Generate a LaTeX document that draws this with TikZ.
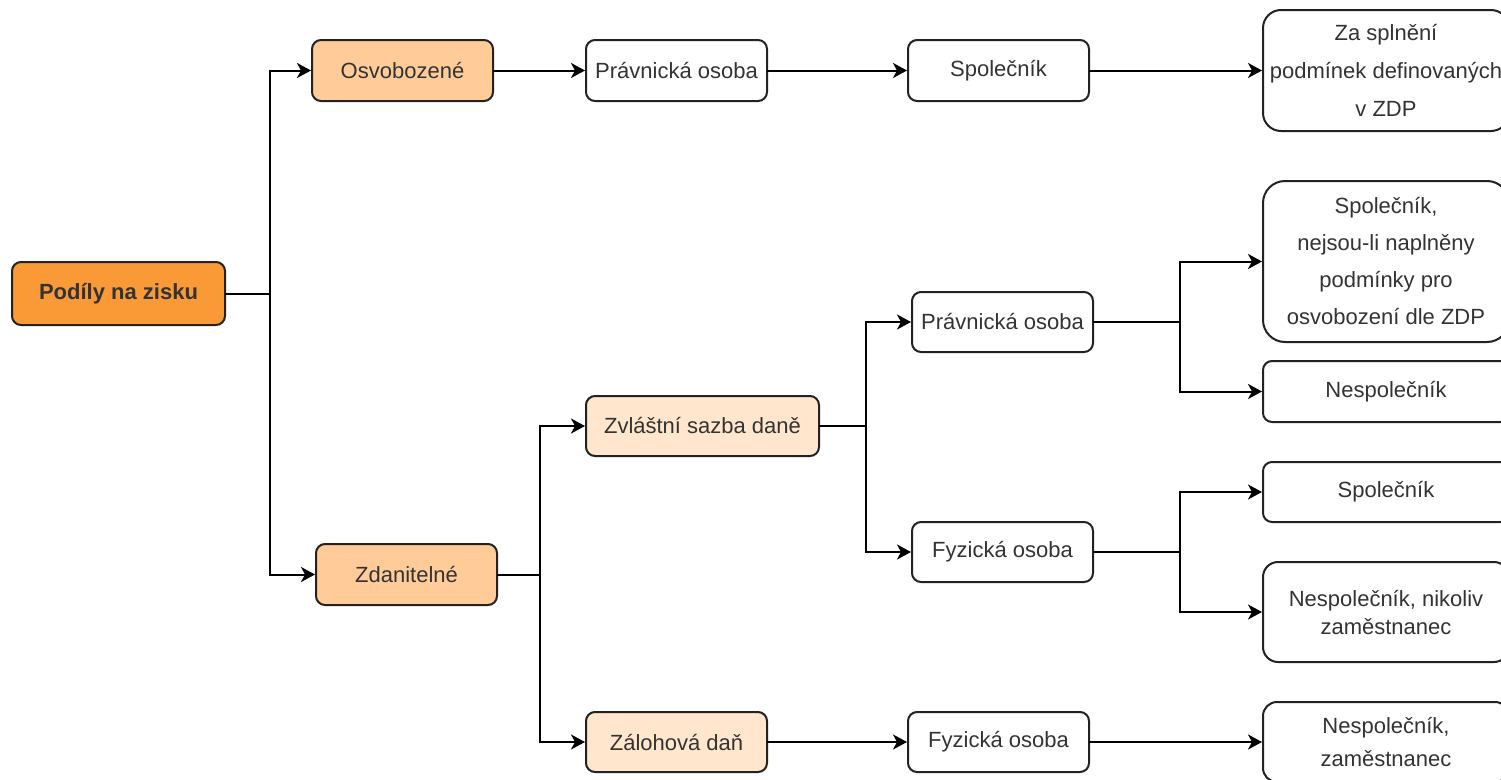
\documentclass[tikz,border=0pt]{standalone}
\usepackage{fontspec}
\setmainfont{Liberation Sans}
\usetikzlibrary{arrows.meta,positioning}
\definecolor{deeporange}{HTML}{F99A36}
\definecolor{midorange}{HTML}{FFCC99}
\definecolor{paleorange}{HTML}{FFE6CC}
\definecolor{edgegray}{HTML}{222222}
\definecolor{textgray}{HTML}{333333}

\begin{document}
\begin{tikzpicture}[x=1pt,y=-1pt,->,>={Stealth[length=14pt,width=15pt,inset=4pt]},
        shorten >=1pt,line width=2pt,node distance=93pt,
        box/.style={draw=edgegray,rectangle,rounded corners=9pt,fill=white,
            minimum width=181pt,minimum height=61pt,inner sep=0pt,outer sep=0pt,align=center,
            text=textgray,font=\fontsize{22}{26}\selectfont},
        wide/.style={box,minimum width=246pt}]

    \useasboundingbox (0,0) rectangle (1501,779);
    \clip (0,0) rectangle (1501,779);

    \node[box,fill=deeporange,minimum width=213pt,minimum height=63pt,
        font=\bfseries\fontsize{22}{26}\selectfont] (zisk) at (118.5,293.5) {Podíly na zisku};

    \node[box,fill=midorange] (osvob) at (402.5,70.5) {Osvobozené};
    \node[box] (pravT) [right=93pt of osvob] {Právnická osoba};
    \node[box] (spolT) [right=141pt of pravT] {Společník};
    \node[wide,minimum height=121pt,rounded corners=18pt,
        font=\fontsize{22}{38}\selectfont] (zdp) [right=174pt of spolT]
        {Za splnění\\podmínek definovaných\\v ZDP};

    \node[box,fill=midorange] (zdan) at (406.5,574.5) {Zdanitelné};
    \node[box,fill=paleorange,minimum width=233pt,minimum height=60pt] (zvl) at (702.5,426) {Zvláštní sazba daně};
    \node[box,fill=paleorange,minimum height=60pt] (zal) at (676.5,742) {Zálohová daň};
    \node[box,minimum height=60pt] (fyzB) [right=141pt of zal] {Fyzická osoba};
    \node[wide,minimum height=80pt,rounded corners=14pt,
        font=\fontsize{22}{33}\selectfont] (nzam) [right=174pt of fyzB] {Nespolečník,\\zaměstnanec};

    \node[box,minimum height=60pt] (pravM) at (1002.5,322) {Právnická osoba};
    \node[box,minimum height=60pt] (fyzM) at (1002.5,552) {Fyzická osoba};

    \node[wide,minimum height=161pt,rounded corners=22pt,
        font=\fontsize{22}{37}\selectfont] (spolN) at (1386,261.5)
        {Společník,\\nejsou-li naplněny\\podmínky pro\\osvobození dle ZDP};
    \node[wide] (nesp) at (1386,391.5) {Nespolečník};
    \node[wide,minimum height=60pt] (spolF) at (1386,492) {Společník};
    \node[wide,minimum height=100pt,rounded corners=15pt,
        font=\fontsize{22}{28}\selectfont] (nnik) at (1386,612) {Nespolečník, nikoliv\\zaměstnanec};

    \draw (zisk.east) -- ++(45,0) |- (osvob.west);
    \draw (zisk.east) -- ++(45,0) |- (zdan.west);
    \path (osvob) edge (pravT);
    \path (pravT) edge (spolT);
    \path (spolT) edge (zdp);

    \draw (zdan.east) -- ++(43,0) |- (zvl.west);
    \draw (zdan.east) -- ++(43,0) |- (zal.west);
    \path (zal) edge (fyzB);
    \path (fyzB) edge (nzam);

    \draw (zvl.east) -- ++(47,0) |- (pravM.west);
    \draw (zvl.east) -- ++(47,0) |- (fyzM.west);

    \draw (pravM.east) -- ++(87,0) |- (spolN.west);
    \draw (pravM.east) -- ++(87,0) |- (nesp.west);
    \draw (fyzM.east) -- ++(87,0) |- (spolF.west);
    \draw (fyzM.east) -- ++(87,0) |- (nnik.west);

\end{tikzpicture}
\end{document}
